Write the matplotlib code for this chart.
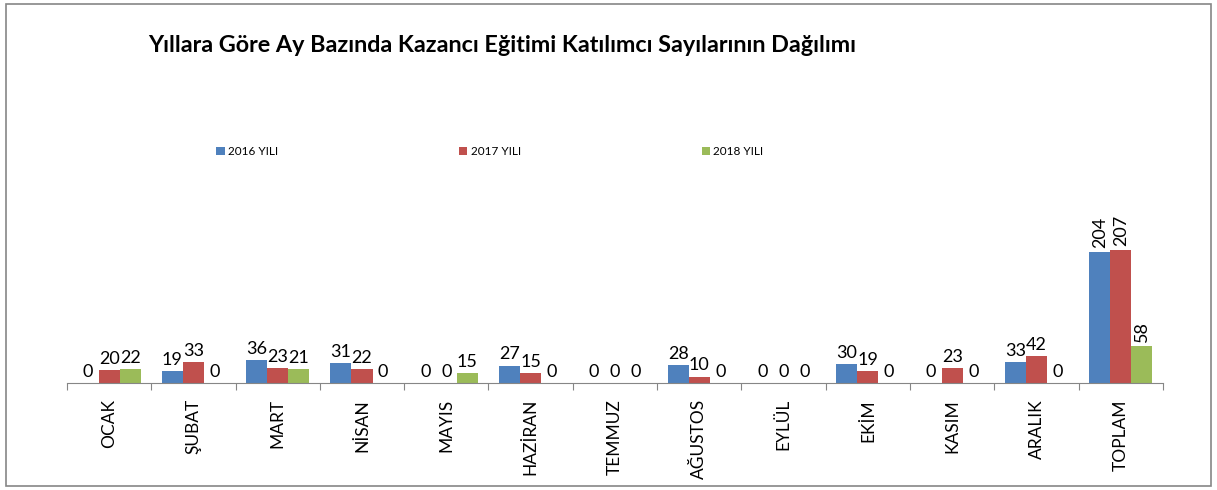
import numpy as np
import matplotlib
matplotlib.use('Agg')
from matplotlib import pyplot as plt
from matplotlib.patches import Rectangle

plt.rcParams['font.family'] = ['Lato', 'DejaVu Sans']

aylar = ['OCAK', 'ŞUBAT', 'MART', 'NİSAN', 'MAYIS', 'HAZİRAN', 'TEMMUZ',
         'AĞUSTOS', 'EYLÜL', 'EKİM', 'KASIM', 'ARALIK', 'TOPLAM']
yil_2016 = [0, 19, 36, 31, 0, 27, 0, 28, 0, 30, 0, 33, 204]
yil_2017 = [20, 33, 23, 22, 0, 15, 0, 10, 0, 19, 23, 42, 207]
yil_2018 = [22, 0, 21, 0, 15, 0, 0, 0, 0, 0, 0, 0, 58]
seriler = ['2016 YILI', '2017 YILI', '2018 YILI']
renkler = ['#4f81bd', '#c0504d', '#9bbb59']

fig = plt.figure(figsize=(12.17, 4.9), dpi=100)
fig.patches.append(Rectangle((0.005, 0.008), 0.99, 0.984, transform=fig.transFigure,
                             fill=False, edgecolor='#868686', linewidth=1.2))
ax = fig.add_axes([0.055, 0.2184, 0.9006, 0.3276])

x = np.arange(len(aylar))
w = 0.25
for i, (veri, ad, renk) in enumerate(zip([yil_2016, yil_2017, yil_2018], seriler, renkler)):
    pos = x + (i - 1) * w
    ax.bar(pos, veri, width=w, color=renk, label=ad)
    # degerler barlarin ustune
    for j, (p, v) in enumerate(zip(pos, veri)):
        if aylar[j] == 'TOPLAM':
            ax.text(p, v + 6, str(v), ha='center', va='bottom', rotation=90, fontsize=13)
        else:
            ax.text(p, v + 5, str(v), ha='center', va='bottom', fontsize=13)

ax.set_xlim(-0.5, len(aylar) - 0.5)
ax.set_ylim(0, 250)
ax.set_yticks([])
for s in ['left', 'right', 'top']:
    ax.spines[s].set_visible(False)
ax.spines['bottom'].set_color('#868686')
ax.set_xticks(np.arange(len(aylar) + 1) - 0.5, minor=False)
ax.set_xticklabels([])
ax.tick_params(axis='x', length=5, color='#868686', direction='out')
for j, ay in enumerate(aylar):
    ax.text(j, -0.1, ay, transform=ax.get_xaxis_transform(), rotation=90,
            ha='center', va='top', fontsize=12.5)

ax.legend(loc='center', bbox_to_anchor=(0.386, 1.439), ncol=3, frameon=False,
          fontsize=8.5, handlelength=0.7, handleheight=0.7, handletextpad=0.3,
          columnspacing=15.3)

fig.text(0.413, 0.908, 'Yıllara Göre Ay Bazında Kazancı Eğitimi Katılımcı Sayılarının Dağılımı',
         ha='center', va='center', fontsize=16.8, fontweight='bold')

fig.savefig('out.png', dpi=100)
